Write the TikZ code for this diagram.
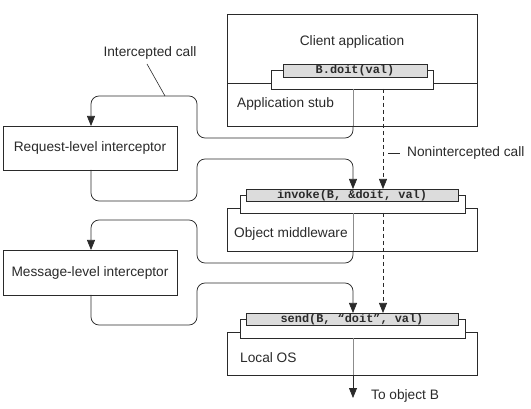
\documentclass[tikz,border=0pt]{standalone}
\usepackage{fontspec}
\setmainfont{Liberation Sans}
\setmonofont{Liberation Mono}
\usetikzlibrary{arrows.meta}
\definecolor{ink}{HTML}{2A2A2A}
\definecolor{barfill}{HTML}{DCDCDC}
\begin{document}
\begin{tikzpicture}[x=1pt,y=-1pt,
  outline/.style={draw=ink, line width=0.75pt, fill=white, inner sep=0pt, outer sep=0pt, anchor=north west},
  barbox/.style={outline, fill=barfill},
  lbl/.style={inner sep=0pt, text=ink, font=\fontsize{13.7}{16}\selectfont},
  code/.style={inner sep=0pt, text=ink, font=\ttfamily\bfseries\fontsize{11.9}{13}\selectfont},
  loop/.style={draw=ink, line width=0.75pt, rounded corners=8pt},
  inner/.style={draw=black!45, line width=0.75pt},
  tip/.style={-{Triangle[width=8pt,length=10pt]}},
  dashline/.style={draw=ink, line width=0.75pt, dash pattern=on 4pt off 3pt}
]
\useasboundingbox (0,0) rectangle (531,409);

% ---------- Client application ----------
\node[outline, minimum width=250pt, minimum height=112pt] (client) at (227,14) {};
\coordinate (divL) at (227,83);
\coordinate (divR) at (477,83);
\draw[draw=ink, line width=0.75pt] (divL) -- (divR);
\node[outline, minimum width=162pt, minimum height=19pt] (plateA) at (271,70) {};
\node[barbox, minimum width=144pt, minimum height=13pt] (barA) at (283,64) {};
\node[code] (codeA) at (barA.center) {B.doit(val)};
\node[lbl] (clienttxt) at (352,42) {Client application};
\node[lbl, anchor=west] (stubtxt) at (237,104) {Application stub};

% ---------- Object middleware ----------
\node[outline, minimum width=250pt, minimum height=43pt] (mw) at (227,208) {};
\node[outline, minimum width=225pt, minimum height=18pt] (plateB) at (240,195) {};
\node[barbox, minimum width=212pt, minimum height=12pt] (barB) at (246,189) {};
\node[code] (codeB) at (barB.center) {invoke(B, \&doit, val)};
\node[lbl, anchor=west] (mwtxt) at (234,234) {Object middleware};

% ---------- Local OS ----------
\node[outline, minimum width=250pt, minimum height=43pt] (os) at (227,332) {};
\node[outline, minimum width=225pt, minimum height=19pt] (plateC) at (240,319) {};
\node[barbox, minimum width=212pt, minimum height=12pt] (barC) at (246,313) {};
\node[code] (codeC) at (barC.center) {send(B, “doit”, val)};
\node[lbl, anchor=west] (ostxt) at (240,358) {Local OS};

% ---------- Interceptors ----------
\node[outline, minimum width=174pt, minimum height=44pt] (req) at (3,126) {};
\node[lbl] (reqtxt) at (req.center) {Request-level interceptor};
\node[outline, minimum width=174pt, minimum height=45pt] (msg) at (3,250) {};
\node[lbl] (msgtxt) at (msg.center) {Message-level interceptor};

% ---------- helper coordinates ----------
\coordinate (xi) at (353,0);
\coordinate (xd) at (383,0);
\coordinate (xl) at (91,0);
\coordinate (xm) at (197,0);

% ---------- intercepted path ----------
% client -> request-level interceptor
\draw[inner] (plateA.south -| xi) -- (client.south -| xi);
\draw[loop, tip] (client.south -| xi) -- (353,138) -- (197,138) -- (197,96) -- (91,96) -- (req.north -| xl);
% request-level interceptor -> middleware
\draw[loop, tip] (req.south -| xl) -- (91,201) -- (197,201) -- (197,159) -- (353,159) -- (barB.north -| xi);
% middleware -> message-level interceptor
\draw[inner] (plateB.south -| xi) -- (mw.south -| xi);
\draw[loop, tip] (mw.south -| xi) -- (353,263) -- (197,263) -- (197,220) -- (91,220) -- (msg.north -| xl);
% message-level interceptor -> local OS
\draw[loop, tip] (msg.south -| xl) -- (91,325) -- (197,325) -- (197,283) -- (353,283) -- (barC.north -| xi);
% local OS -> object B
\coordinate (objB) at (353,398);
\draw[inner] (plateC.south -| xi) -- (os.south -| xi);
\draw[draw=ink, line width=0.75pt, tip] (os.south -| xi) -- (objB);
\node[lbl, anchor=west] (objBtxt) at (371,396) {To object B};

% ---------- nonintercepted path ----------
\draw[dashline, tip] (plateA.south -| xd) -- (barB.north -| xd);
\draw[dashline, tip] (plateB.south -| xd) -- (barC.north -| xd);

% ---------- labels ----------
\node[lbl] (inctxt) at (150,53) {Intercepted call};
\coordinate (incA) at (147,64);
\coordinate (incB) at (165,96);
\draw[draw=ink, line width=0.6pt] (incA) -- (incB);
\node[lbl, anchor=west] (nontxt) at (407,153) {Nonintercepted call};
\coordinate (nonA) at (388,153);
\coordinate (nonB) at (400,153);
\draw[draw=ink, line width=0.6pt] (nonA) -- (nonB);
\end{tikzpicture}
\end{document}
